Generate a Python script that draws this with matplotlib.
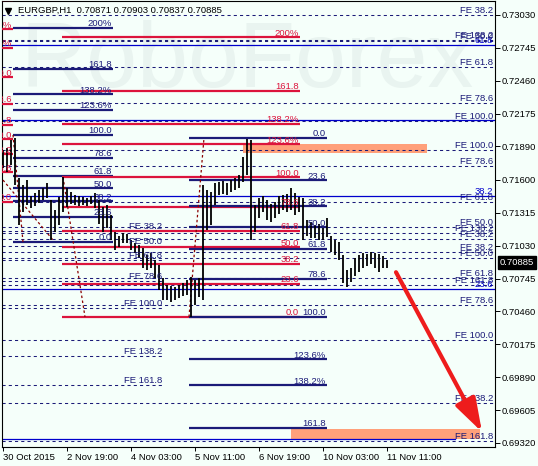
import matplotlib
matplotlib.use("Agg")
import matplotlib.pyplot as plt
import matplotlib.transforms as mtransforms
from matplotlib.patches import Rectangle

plt.rcParams['font.family'] = ['Liberation Sans', 'DejaVu Sans']

# ---------------- data ----------------
header_text = "EURGBP,H1  0.70871 0.70903 0.70837 0.70885"
last_price = 0.70885

bar_hours = list(range(0, 193, 2))
bar_high = [0.71860, 0.71877, 0.71946, 0.71964, 0.71617, 0.71556, 0.71599, 0.71461, 0.71487, 0.71513,
            0.71530, 0.71573, 0.71426, 0.71339, 0.71452, 0.71625, 0.71530, 0.71495, 0.71469, 0.71461,
            0.71452, 0.71443, 0.71461, 0.71487, 0.71426, 0.71365, 0.71383, 0.71296, 0.71149, 0.71114,
            0.71140, 0.71131, 0.71079, 0.71053, 0.71036, 0.71010, 0.70949, 0.70967, 0.70906, 0.70862,
            0.70750, 0.70689, 0.70680, 0.70672, 0.70689, 0.70706, 0.70732, 0.70758, 0.70732, 0.70750,
            0.71556, 0.71513, 0.71495, 0.71573, 0.71582, 0.71591, 0.71573, 0.71599, 0.71617, 0.71643,
            0.71799, 0.71955, 0.71946, 0.71383, 0.71443, 0.71461, 0.71426, 0.71391, 0.71409, 0.71461,
            0.71469, 0.71478, 0.71530, 0.71487, 0.71452, 0.71443, 0.71253, 0.71235, 0.71209, 0.71218,
            0.71183, 0.71270, 0.71114, 0.71079, 0.71062, 0.70949, 0.70819, 0.70836, 0.70923, 0.70949,
            0.70967, 0.70958, 0.70975, 0.70967, 0.70958, 0.70941, 0.70903]
bar_low = [0.71703, 0.71669, 0.71729, 0.71556, 0.71209, 0.71322, 0.71383, 0.71357, 0.71374, 0.71400,
           0.71426, 0.71443, 0.71079, 0.71149, 0.71209, 0.71322, 0.71365, 0.71391, 0.71383, 0.71374,
           0.71383, 0.71374, 0.71391, 0.71357, 0.71218, 0.71149, 0.71183, 0.71079, 0.70993, 0.71019,
           0.71053, 0.71053, 0.70993, 0.70967, 0.70923, 0.70836, 0.70819, 0.70836, 0.70750, 0.70646,
           0.70559, 0.70559, 0.70542, 0.70559, 0.70576, 0.70594, 0.70602, 0.70412, 0.70516, 0.70585,
           0.70559, 0.71166, 0.71209, 0.71383, 0.71469, 0.71478, 0.71469, 0.71495, 0.71513, 0.71530,
           0.71582, 0.71643, 0.71079, 0.71149, 0.71270, 0.71322, 0.71253, 0.71235, 0.71270, 0.71305,
           0.71339, 0.71322, 0.71339, 0.71296, 0.71322, 0.71079, 0.71114, 0.71097, 0.71097, 0.71079,
           0.71079, 0.71105, 0.70975, 0.70949, 0.70906, 0.70706, 0.70672, 0.70715, 0.70767, 0.70802,
           0.70836, 0.70854, 0.70871, 0.70836, 0.70802, 0.70836, 0.70837]

xtick_hours = [0, 32, 64, 96, 128, 160, 192]
xtick_labels = ['30 Oct 2015', '2 Nov 19:00', '4 Nov 03:00', '5 Nov 11:00',
                '6 Nov 19:00', '10 Nov 03:00', '11 Nov 11:00']
ytick_values = [0.73030, 0.72745, 0.72460, 0.72175, 0.71890, 0.71600, 0.71315,
                0.71030, 0.70745, 0.70460, 0.70175, 0.69890, 0.69605, 0.69320]

fib_levels = [0, 23.6, 38.2, 50, 61.8, 78.6, 100, 123.6, 138.2, 161.8, 200]
fib_labels = ['0.0', '23.6', '38.2', '50.0', '61.8', '78.6', '100.0', '123.6%', '138.2%', '161.8', '200%']
# retracements: [start hour, end hour, price at 0 %, price at 100 %]
fib_A = [5, 55, 0.71062, 0.71990]
fib_B = [29.5, 148.5, 0.70412, 0.71625]
fib_C = [93, 162, 0.71964, 0.70412]
fib_Z = [-12, 5, 0.71409, 0.72492]
fib_S = [-0.5, 245.5, 0.69354, 0.74877]
fib_S_levels = [0, 23.6, 38.2, 50, 61.8]
fib_S_labels = ['', '23.6', '38.2', '', '61.8']

fe_levels = [38.2, 50, 61.8, 78.6, 100, 138.2, 161.8]
fe_labels = ['FE 38.2', 'FE 50.0', 'FE 61.8', 'FE 78.6', 'FE 100.0', 'FE 138.2', 'FE 161.8']
# expansions: [start hour, end hour, price at 0 %, price at 100 %]
fe_U = [-0.5, 245.5, 0.73753, 0.71860]
fe_V = [-0.5, 245.5, 0.70273, 0.72111]
fe_R = [-0.5, 245.5, 0.71629, 0.70212]
fe_L = [-0.5, 80, 0.71570, 0.70490]

# dotted trend lines of the fibo objects: [h0, p0, h1, p1]
diag_A = [5, 0.71990, 10, 0.71062]
diag_B = [30, 0.71625, 41, 0.70412]
diag_C = [93, 0.70412, 100.5, 0.71964]
diag_X = [0, 0.71599, 25, 0.71079]

# target zones: [h0, h1, p_low, p_high]
zone_top = [120, 212, 0.71834, 0.71912]
zone_bottom = [144, 238.5, 0.69354, 0.69441]

arrow_start = [196.5, 0.70800]
arrow_end = [239.5, 0.69415]

# ---------------- style ----------------
BG = '#F5FFFA'
NAVY = '#1B1B78'
RED = '#DC143C'
BLUE = '#0000CC'
FS = 6.8

fig = plt.figure(figsize=(5.38, 4.66), dpi=100, facecolor=BG)
ax = fig.add_axes([2 / 538, 19 / 466, 493 / 538, 446 / 466])
ax.set_facecolor(BG)
ax.set_xlim(-0.5, 246)
ax.set_ylim(0.69285, 0.73151)


def lvl(p0, p100, pct):
    return p0 + (p100 - p0) * pct / 100.0


def lab_tf(dy):
    return mtransforms.offset_copy(ax.transData, fig=fig, x=-1, y=dy, units='dots')


# watermark
ax.text(0.497, 0.862, 'RoboForex', transform=ax.transAxes, fontsize=66,
        color='#E9F4F0', ha='center', va='center', zorder=0.5)

# zones
for h0, h1, pl, ph in (zone_top, zone_bottom):
    ax.add_patch(Rectangle((h0, pl), h1 - h0, ph - pl, facecolor='#FFA07A',
                           edgecolor='none', zorder=1.5))

# fibo expansions (dashed)
for (t0, t1, p0, p100) in (fe_U, fe_V, fe_R, fe_L):
    for pct, lab in zip(fe_levels, fe_labels):
        y = lvl(p0, p100, pct)
        ax.plot([t0, t1], [y, y], color=NAVY, lw=0.75, linestyle=(0, (3, 3)), zorder=2)
        ax.text(t1, y, lab, transform=lab_tf(2), ha='right', va='baseline',
                color=NAVY, fontsize=FS, zorder=6, clip_on=True)

# solid blue fibo
t0, t1, p0, p100 = fib_S
for pct, lab in zip(fib_S_levels, fib_S_labels):
    y = lvl(p0, p100, pct)
    end = 226 if pct == 0 else t1
    ax.plot([t0, end], [y, y], color=BLUE, lw=0.9, zorder=2.5)
    if lab:
        ax.text(t1, y, lab, transform=lab_tf(2), ha='right', va='baseline',
                color=BLUE, fontsize=FS, zorder=5.5, clip_on=True)

# fibo retracements
for fib, color in ((fib_Z, RED), (fib_A, NAVY), (fib_B, RED), (fib_C, NAVY)):
    t0, t1, p0, p100 = fib
    for pct, lab in zip(fib_levels, fib_labels):
        y = lvl(p0, p100, pct)
        ax.plot([t0, t1], [y, y], color=color, lw=1.6, solid_capstyle='butt', zorder=3)
        ax.text(t1, y, lab, transform=lab_tf(1.5), ha='right', va='baseline',
                color=color, fontsize=FS, zorder=6, clip_on=True)

# dotted diagonals
for h0, p0, h1, p1 in (diag_A, diag_B, diag_C, diag_X):
    ax.plot([h0, h1], [p0, p1], color='#8B0000', lw=0.9, linestyle=(0, (2, 2)), zorder=4)

# price bars
ax.vlines(bar_hours, bar_low, bar_high, color='black', lw=1.3, zorder=5)

# arrow
ax.annotate('', xy=arrow_end, xytext=arrow_start,
            arrowprops=dict(arrowstyle='-|>,head_length=1.7,head_width=0.55',
                            color='#EE1C1C', lw=3, mutation_scale=12,
                            shrinkA=0, shrinkB=0), zorder=7)

# header
ax.plot([0.013], [0.978], marker='v', markersize=5, color='black',
        transform=ax.transAxes, clip_on=False, zorder=8)
ax.text(0.0325, 0.978, header_text, transform=ax.transAxes, fontsize=FS,
        ha='left', va='center', color='black', zorder=8)

# axes
for s in ax.spines.values():
    s.set_color('black')
    s.set_linewidth(0.8)
ax.yaxis.tick_right()
ax.set_yticks(ytick_values)
ax.set_yticklabels([f'{v:.5f}' for v in ytick_values])
ax.set_xticks(xtick_hours)
ax.set_xticklabels(xtick_labels, ha='left')
ax.tick_params(axis='y', direction='out', length=3.6, width=0.7, pad=1.5,
               labelsize=FS, colors='black')
ax.tick_params(axis='x', direction='out', length=3, width=0.7, pad=1.5,
               labelsize=FS, colors='black')

# current price box
ax.text(1.0101, last_price, f'{last_price:.5f}',
        transform=mtransforms.blended_transform_factory(ax.transAxes, ax.transData),
        color='white', fontsize=FS, ha='left', va='center', clip_on=False, zorder=9,
        bbox=dict(facecolor='black', edgecolor='black', pad=1.2))

fig.savefig('out.png', dpi=100, facecolor=BG)
